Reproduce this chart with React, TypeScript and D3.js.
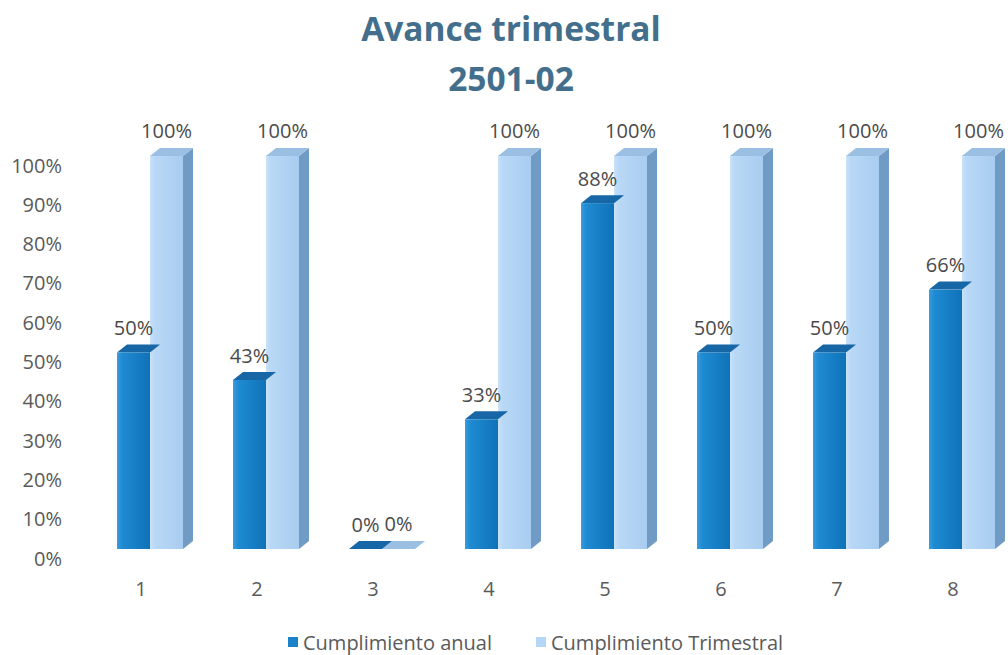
import React from "react";
import * as d3 from "d3";

const categories = ["1", "2", "3", "4", "5", "6", "7", "8"];
const anual = [0.5, 0.43, 0, 0.33, 0.88, 0.5, 0.5, 0.66];
const trimestral = [1, 1, 0, 1, 1, 1, 1, 1];
const yTicks = [0, 0.1, 0.2, 0.3, 0.4, 0.5, 0.6, 0.7, 0.8, 0.9, 1];
const seriesNames = ["Cumplimiento anual", "Cumplimiento Trimestral"];
const titleLines = ["Avance trimestral", "2501-02"];

const W = 1008;
const H = 655;
const DX = 10;
const DY = -8;
const FONT = "'Open Sans', 'Liberation Sans', sans-serif";

export default function App() {
  const y = d3.scaleLinear().domain([0, 1]).range([549, 156]);
  const x = d3
    .scaleBand<string>()
    .domain(categories)
    .range([117, 995])
    .paddingInner(50 / 116)
    .paddingOuter(0);
  const bw = x.bandwidth() / 2;
  const pct = d3.format(".0%");

  const bar = (x0: number, v: number, front: string, top: string, side: string | null, key: string) => {
    const yt = y(v);
    const yb = y(0);
    const x1 = x0 + bw;
    return (
      <g key={key}>
        {side && (
          <polygon
            points={`${x1},${yt} ${x1 + DX},${yt + DY} ${x1 + DX},${yb + DY} ${x1},${yb}`}
            fill={side}
          />
        )}
        <polygon
          points={`${x0},${yt} ${x1},${yt} ${x1 + DX},${yt + DY} ${x0 + DX},${yt + DY}`}
          fill={top}
        />
        {v > 0 && <rect x={x0} y={yt} width={bw} height={yb - yt} fill={front} />}
      </g>
    );
  };

  return (
    <svg width={W} height={H} style={{ position: "absolute", left: 0, top: 0, background: "#fff" }}>
      <defs>
        <linearGradient id="gA" x1="0" x2="1" y1="0" y2="0">
          <stop offset="0" stopColor="#3a9de0" />
          <stop offset="0.15" stopColor="#1f8bd3" />
          <stop offset="1" stopColor="#0f72b8" />
        </linearGradient>
        <linearGradient id="gT" x1="0" x2="1" y1="0" y2="0">
          <stop offset="0" stopColor="#c8e2f9" />
          <stop offset="0.15" stopColor="#b9d8f6" />
          <stop offset="1" stopColor="#a8cdf0" />
        </linearGradient>
      </defs>

      {titleLines.map((t, i) => (
        <text
          key={t}
          x={511}
          y={41 + i * 50}
          textAnchor="middle"
          fontFamily={FONT}
          fontWeight={700}
          fontSize={33.5}
          fill="#436f8d"
        >
          {t}
        </text>
      ))}

      {yTicks.map((t) => (
        <text
          key={t}
          x={62}
          y={y(t) + 9}
          textAnchor="end"
          dominantBaseline="central"
          fontFamily={FONT}
          fontSize={20}
          fill="#5a5a5a"
        >
          {pct(t)}
        </text>
      ))}

      {categories.map((c, i) => {
        const x0 = x(c)!;
        return (
          <g key={c}>
            {bar(x0 + bw, trimestral[i], "url(#gT)", "#9bbfe2", "#6f9bc4", "t" + c)}
            {bar(x0, anual[i], "url(#gA)", "#1766a6", null, "a" + c)}
            <text
              x={x0 + bw / 2}
              y={y(anual[i]) - 25}
              textAnchor="middle"
              dominantBaseline="central"
              fontFamily={FONT}
              fontSize={20}
              fill="#4a4a4a"
            >
              {pct(anual[i])}
            </text>
            <text
              x={x0 + bw * 1.5}
              y={y(trimestral[i]) - 26}
              textAnchor="middle"
              dominantBaseline="central"
              fontFamily={FONT}
              fontSize={20}
              fill="#4a4a4a"
            >
              {pct(trimestral[i])}
            </text>
            <text
              x={x0 + 24}
              y={588}
              textAnchor="middle"
              dominantBaseline="central"
              fontFamily={FONT}
              fontSize={20}
              fill="#5a5a5a"
            >
              {c}
            </text>
          </g>
        );
      })}

      {seriesNames.map((s, i) => {
        const lx = i === 0 ? 288 : 536;
        return (
          <g key={s}>
            <rect x={lx} y={637} width={10} height={10} fill={i === 0 ? "#1a82c8" : "#b5d6f5"} />
            <text
              x={lx + 15}
              y={642}
              dominantBaseline="central"
              fontFamily={FONT}
              fontSize={20}
              fill="#5a5a5a"
            >
              {s}
            </text>
          </g>
        );
      })}
    </svg>
  );
}
